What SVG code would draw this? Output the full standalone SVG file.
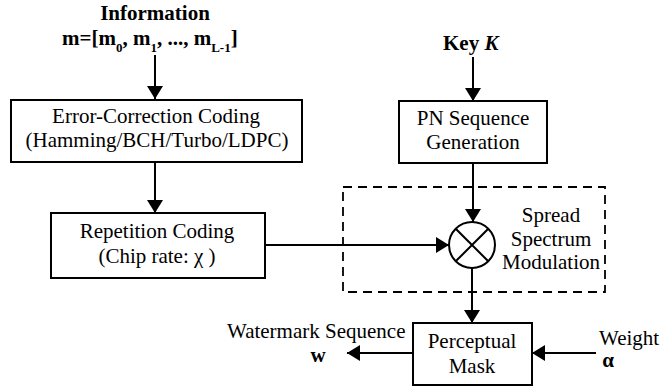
<svg xmlns="http://www.w3.org/2000/svg" width="664" height="390" viewBox="0 0 664 390">
<defs>
<marker id="ah" markerUnits="userSpaceOnUse" markerWidth="16" markerHeight="16" refX="13" refY="8" orient="auto">
<path d="M0,0 L13,8 L0,16 z" fill="#000"/>
</marker>
<style>
text{font-family:"Liberation Serif","Times New Roman",serif;font-size:21px;fill:#000}
.b{font-weight:bold}
.box{fill:#fff;stroke:#000;stroke-width:2}
.c{stroke:#000;stroke-width:2;fill:none}
.a{stroke:#000;stroke-width:2;fill:none;marker-end:url(#ah)}
.mid{text-anchor:middle}
</style>
</defs>
<rect width="664" height="390" fill="#fff"/>
<g id="ss-region">
<rect x="343" y="187" width="262" height="105" fill="none" stroke="#000" stroke-width="1.8" stroke-dasharray="9,6"/>
<text class="mid" x="551" y="222">Spread</text>
<text class="mid" x="551" y="246">Spectrum</text>
<text class="mid" x="551" y="269">Modulation</text>
</g>
<g id="connectors">
<line class="a" x1="155" y1="55" x2="155" y2="99"/>
<line class="a" x1="155" y1="162" x2="155" y2="213"/>
<line class="a" x1="473" y1="57" x2="473" y2="101"/>
<line class="a" x1="473" y1="163" x2="473" y2="222"/>
<line class="a" x1="265" y1="245" x2="449" y2="245"/>
<line class="a" x1="472" y1="268" x2="472" y2="323"/>
<line class="a" x1="413" y1="353" x2="347" y2="353"/>
<line class="a" x1="596" y1="353" x2="532" y2="353"/>
</g>
<g id="information">
<text class="b mid" x="155" y="20">Information</text>
<text class="b" x="62" y="45">m=[m<tspan font-size="13" dy="7">0</tspan><tspan dy="-7">, m</tspan><tspan font-size="13" dy="7">1</tspan><tspan dy="-7">, ..., m</tspan><tspan font-size="13" dy="7">L-1</tspan><tspan dy="-7">]</tspan></text>
</g>
<g id="ecc">
<rect class="box" x="11" y="100" width="291" height="62"/>
<text class="mid" x="156" y="123">Error-Correction Coding</text>
<text class="mid" x="157" y="147">(Hamming/BCH/Turbo/LDPC)</text>
</g>
<g id="repetition">
<rect class="box" x="51" y="213" width="214" height="65"/>
<text class="mid" x="157" y="238">Repetition Coding</text>
<text class="mid" x="157" y="263">(Chip rate: χ )</text>
</g>
<g id="key">
<text x="443" y="50"><tspan class="b">Key </tspan><tspan class="b" font-style="italic">K</tspan></text>
</g>
<g id="pn">
<rect class="box" x="399" y="101" width="148" height="62"/>
<text class="mid" x="473" y="125">PN Sequence</text>
<text class="mid" x="473" y="149">Generation</text>
</g>
<g id="modulator">
<circle class="c" cx="472" cy="245" r="23" fill="#fff"/>
<line class="c" x1="455.7" y1="228.7" x2="488.3" y2="261.3"/>
<line class="c" x1="488.3" y1="228.7" x2="455.7" y2="261.3"/>
</g>
<g id="perceptual">
<rect class="box" x="413" y="323" width="119" height="62"/>
<text class="mid" x="472" y="348">Perceptual</text>
<text class="mid" x="472" y="373">Mask</text>
</g>
<g id="watermark">
<text x="227" y="338">Watermark Sequence</text>
<text class="b mid" x="318" y="362">w</text>
</g>
<g id="weight">
<text x="599" y="345">Weight</text>
<text class="b mid" x="608" y="367" font-size="20">α</text>
</g>
</svg>
